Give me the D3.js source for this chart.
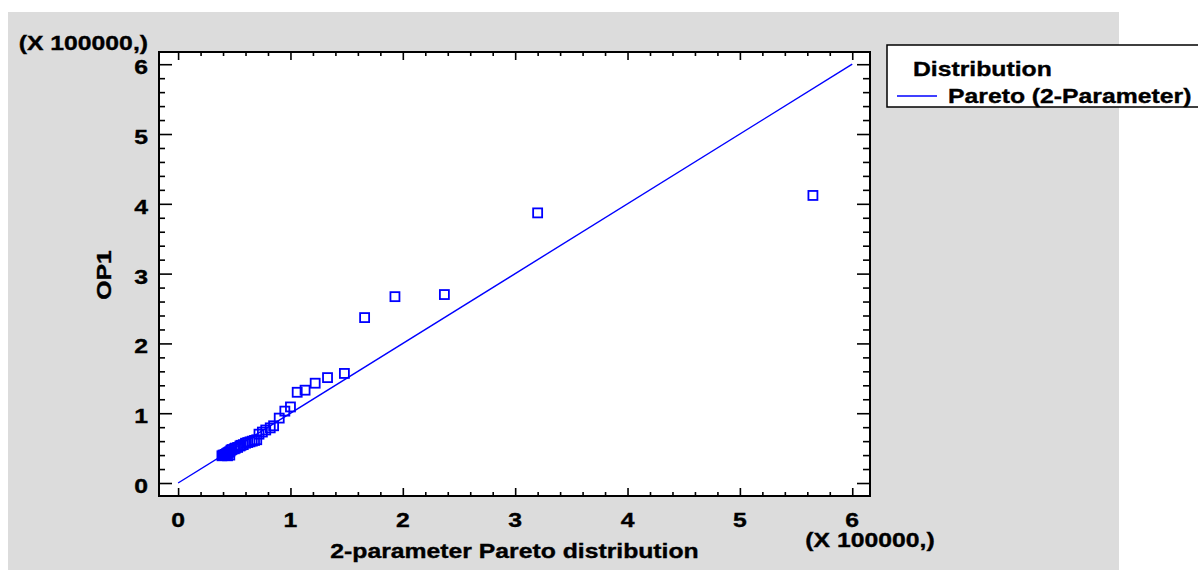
<!DOCTYPE html>
<html>
<head>
<meta charset="utf-8">
<script src="https://cdn.jsdelivr.net/npm/d3@7"></script>
<style>
  body { margin: 0; background: #fff; }
  text { font-family: "Liberation Sans", Arial, sans-serif; font-weight: bold; fill: #000; stroke: #000; stroke-width: 0.35px; font-size: 19.5px; }
</style>
</head>
<body>
<div id="chart"></div>
<script>
// quantiles of the fitted 2-parameter Pareto (x 100000) vs observed OP1 (x 100000)
var fitted = [5.65, 3.20, 2.37, 1.93, 1.66, 1.48, 1.33, 1.22, 1.13, 1.06, 1.00, 0.95, 0.90,
  0.85, 0.82, 0.78, 0.75, 0.72, 0.70, 0.68, 0.66, 0.64, 0.62, 0.60, 0.58, 0.56, 0.55,
  0.53, 0.51, 0.50, 0.48, 0.47, 0.46, 0.45, 0.44, 0.43, 0.42, 0.41, 0.40, 0.39, 0.46, 0.44];
var observed = [4.12, 3.87, 2.70, 2.67, 2.37, 1.57, 1.51, 1.43, 1.33, 1.30, 1.09, 1.03, 0.93,
  0.82, 0.79, 0.76, 0.73, 0.70, 0.62, 0.61, 0.60, 0.59, 0.58, 0.57, 0.55, 0.54, 0.53,
  0.51, 0.50, 0.49, 0.48, 0.47, 0.45, 0.44, 0.43, 0.42, 0.41, 0.40, 0.40, 0.39, 0.40, 0.39];
var majorTicks = [0, 1, 2, 3, 4, 5, 6];
var minorTicks = d3.range(0, 6.2, 0.2).map(function(d) { return +d.toFixed(1); })
  .filter(function(d) { return Math.abs(d - Math.round(d)) > 0.01; });
var refLine = [0, 6];
var xTitle = "2-parameter Pareto distribution";
var yTitle = "OP1";
var scaleNote = "(X 100000,)";
var legendTitle = "Distribution";
var legendItem = "Pareto (2-Parameter)";

var W = 1198, H = 570;
var SX = 1.27; // horizontal stretch of the labels
var svg = d3.select("#chart").append("svg").attr("width", W).attr("height", H);

function label(x, y, txt, anchor, rot) {
  return svg.append("text")
    .attr("transform", "translate(" + x + "," + y + ")" + (rot ? " rotate(" + rot + ")" : "") + " scale(" + SX + ",1)")
    .attr("text-anchor", anchor || "start")
    .text(txt);
}

// gray background panel
svg.append("rect").attr("x", 8).attr("y", 12).attr("width", 1111).attr("height", 558).attr("fill", "#dcdcdc");

var margin = {left: 159, top: 52, right: 870, bottom: 496};
var x = d3.scaleLinear().domain([-0.17, 6.158]).range([margin.left, margin.right]);
var y = d3.scaleLinear().domain([-0.186, 6.175]).range([margin.bottom, margin.top]);

svg.append("rect")
  .attr("x", margin.left).attr("y", margin.top)
  .attr("width", margin.right - margin.left).attr("height", margin.bottom - margin.top)
  .attr("fill", "#fff");

var g = svg.append("g");

// reference line
g.append("line")
  .attr("x1", x(refLine[0])).attr("y1", y(refLine[0]))
  .attr("x2", x(refLine[1])).attr("y2", y(refLine[1]))
  .attr("stroke", "#0000ff").attr("stroke-width", 1.4);

// points
var pts = fitted.map(function(d, i) { return {x: d, y: observed[i]}; });
g.selectAll("rect.pt").data(pts).enter().append("rect")
  .attr("class", "pt")
  .attr("x", function(d) { return x(d.x) - 4.5; })
  .attr("y", function(d) { return y(d.y) - 4.5; })
  .attr("width", 9).attr("height", 9)
  .attr("fill", "none").attr("stroke", "#0000ff").attr("stroke-width", 1.8);

function styleAxis(sel) {
  sel.select(".domain").remove();
  sel.selectAll("line").attr("stroke", "#000").attr("stroke-width", 1.6);
  sel.selectAll("text").remove();
}

function ticks(axisFn, scale, pos, vals, len) {
  svg.append("g").attr("transform", pos)
    .call(axisFn(scale).tickValues(vals).tickSizeInner(-len).tickSizeOuter(0))
    .call(styleAxis);
}

ticks(d3.axisBottom, x, "translate(0," + margin.bottom + ")", majorTicks, 8);
ticks(d3.axisBottom, x, "translate(0," + margin.bottom + ")", minorTicks, 4);
ticks(d3.axisTop, x, "translate(0," + margin.top + ")", majorTicks, 8);
ticks(d3.axisTop, x, "translate(0," + margin.top + ")", minorTicks, 4);
ticks(d3.axisLeft, y, "translate(" + margin.left + ",0)", majorTicks, 13);
ticks(d3.axisLeft, y, "translate(" + margin.left + ",0)", minorTicks, 6);
ticks(d3.axisRight, y, "translate(" + margin.right + ",0)", majorTicks, 13);
ticks(d3.axisRight, y, "translate(" + margin.right + ",0)", minorTicks, 7);

// tick labels
majorTicks.forEach(function(d) {
  label(x(d), 527, d, "middle");
  label(148, y(d) + 10, d, "end");
});

// frame
svg.append("rect")
  .attr("x", margin.left).attr("y", margin.top)
  .attr("width", margin.right - margin.left).attr("height", margin.bottom - margin.top)
  .attr("fill", "none").attr("stroke", "#000").attr("stroke-width", 2);

// axis titles
label((margin.left + margin.right) / 2, 558, xTitle, "middle");
label(111, 275, yTitle, "middle", -90);
label(148, 50, scaleNote, "end");
label(870, 547, scaleNote, "middle");

// legend
svg.append("rect").attr("x", 887).attr("y", 45).attr("width", 320).attr("height", 62)
  .attr("fill", "#fff").attr("stroke", "#000").attr("stroke-width", 1.5);
label(913, 76, legendTitle);
svg.append("line").attr("x1", 897).attr("x2", 937).attr("y1", 96).attr("y2", 96)
  .attr("stroke", "#0000ff").attr("stroke-width", 1.3);
label(948, 103, legendItem);
</script>
</body>
</html>
